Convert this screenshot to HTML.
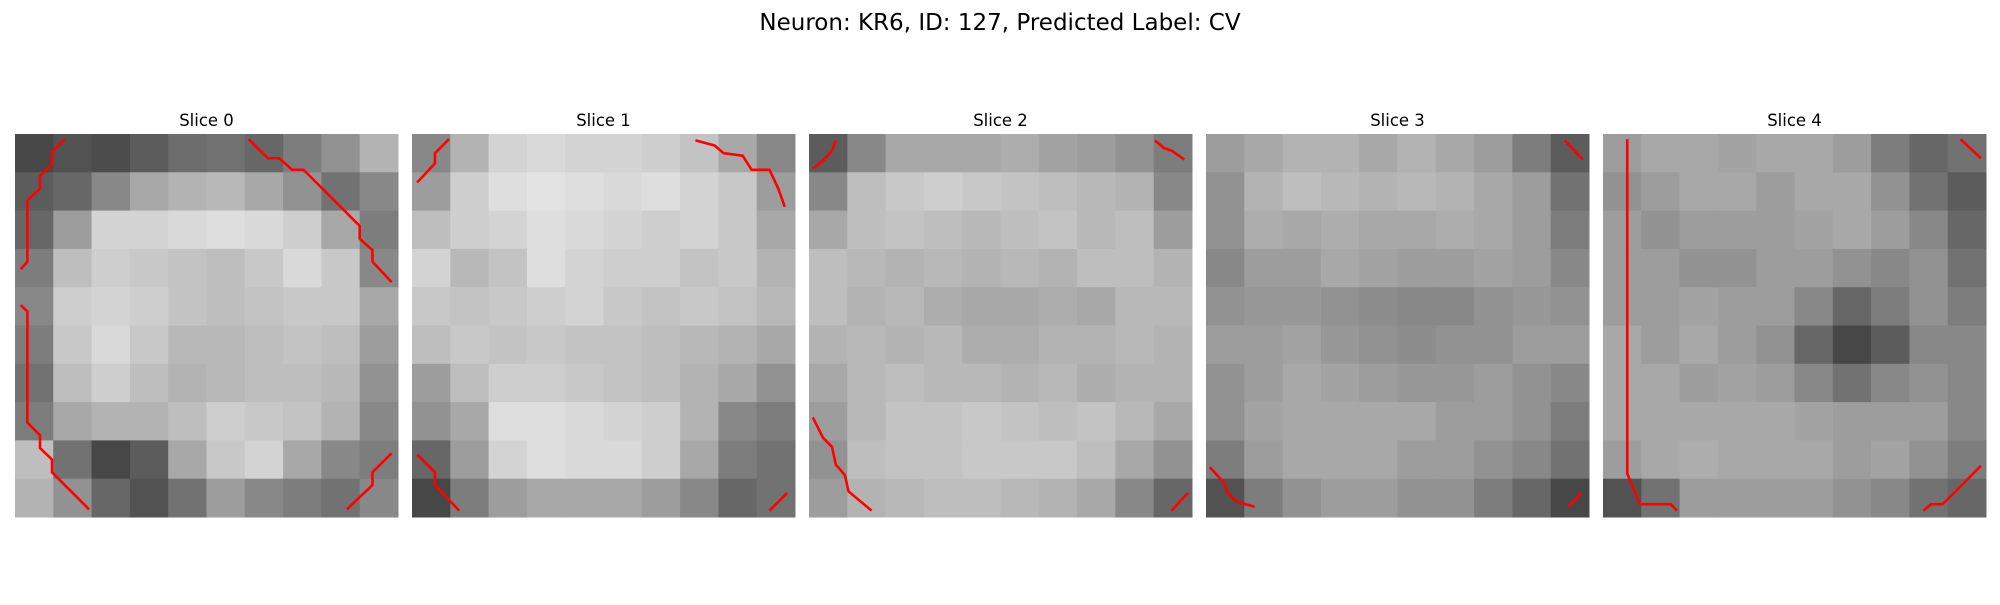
<!DOCTYPE html>
<html><head><meta charset="utf-8"><style>
body{margin:0;background:#fff;width:2000px;height:600px;overflow:hidden;font-family:"Liberation Sans","DejaVu Sans",sans-serif}
</style></head><body>
<svg id="fig" width="2000" height="600" xmlns="http://www.w3.org/2000/svg">
<text x="1000" y="30" text-anchor="middle" font-size="23" fill="#000" font-family="DejaVu Sans, sans-serif">Neuron: KR6, ID: 127, Predicted Label: CV</text>
</svg>
<script>
const sliceTitles=["Slice 0","Slice 1","Slice 2","Slice 3","Slice 4"];
const grid0=[[60,70,65,80,95,100,90,110,130,160],[80,90,120,150,160,165,150,130,100,120],[90,140,190,190,195,200,195,185,150,110],[110,170,185,180,175,170,180,195,180,120],[120,185,190,185,175,170,175,180,180,150],[110,180,195,180,165,165,170,175,170,140],[100,170,185,170,160,165,170,170,165,130],[110,150,160,160,170,185,180,175,160,120],[170,100,60,80,150,180,190,150,120,110],[160,130,90,70,100,140,120,110,100,120]];
const grid1=[[120,160,190,195,190,190,185,175,150,120],[140,185,200,205,200,195,200,190,180,140],[170,185,190,200,195,190,185,190,180,150],[190,165,175,200,190,185,185,175,180,160],[180,175,180,185,190,180,175,180,175,165],[170,180,175,180,175,175,170,165,160,150],[140,170,185,185,180,175,170,160,150,130],[130,150,200,200,195,190,185,160,120,110],[90,140,190,200,195,195,185,150,110,100],[60,110,140,150,150,150,140,120,90,100]];
const grid2=[[80,120,150,150,150,155,145,140,130,110],[120,170,180,185,180,175,170,165,160,120],[150,170,175,170,165,170,175,165,170,140],[170,165,160,165,160,165,160,170,170,160],[170,160,165,155,150,150,155,150,165,165],[160,165,160,165,155,155,160,160,165,160],[150,165,170,165,165,160,165,155,160,160],[140,165,175,175,180,175,170,175,165,150],[130,170,175,175,180,180,180,170,150,130],[140,160,165,170,170,165,160,150,120,90]];
const grid3=[[140,150,160,160,150,160,150,140,110,80],[130,160,170,165,160,165,160,150,140,100],[130,155,150,155,150,150,155,150,140,110],[120,140,140,150,145,140,140,145,140,120],[130,135,135,130,125,120,120,130,135,130],[140,140,145,135,130,125,130,130,140,140],[130,140,150,145,140,135,135,140,130,120],[130,145,150,150,150,150,140,140,130,110],[110,140,150,150,150,140,140,130,120,100],[70,110,130,140,140,130,130,110,90,60]];
const grid4=[[140,150,150,145,150,150,140,110,90,100],[130,140,150,150,140,150,150,130,100,80],[140,130,140,140,140,145,150,140,120,90],[140,140,130,130,140,140,130,120,130,100],[140,140,145,140,140,120,90,110,130,110],[150,140,150,140,130,90,60,80,120,120],[150,150,140,145,140,120,100,120,130,120],[150,150,150,150,150,145,140,140,140,120],[140,150,155,150,150,150,140,145,130,110],[70,100,140,140,140,140,130,120,100,90]];
const grids=[grid0,grid1,grid2,grid3,grid4];
const contours0=[[[3.9,0.4],[2.9,1.4],[2.9,2.35],[1.96,3.3],[1.96,4.26],[0.97,5.2],[0.97,10],[0.44,10.6]],[[0.44,13.4],[0.97,13.9],[0.97,22.6],[1.96,23.6],[1.96,24.6],[2.9,25.5],[2.9,26.5],[5.8,29.4]],[[18.3,0.4],[19.8,1.9],[20.7,1.9],[21.7,2.8],[22.6,2.8],[27,7.2],[27,8.2],[28,9.1],[28,10],[29.5,11.6]],[[29.5,25],[28,26.5],[28,27.5],[26,29.4]]];
const contours1=[[[0.4,3.8],[1.8,2.3],[1.8,1.5],[2.9,0.4]],[[22.2,0.5],[23.7,0.9],[24.4,1.5],[25.9,1.7],[26.6,2.8],[28,2.8],[28.7,4.3],[29.2,5.7]],[[0.4,25.1],[1.8,26.5],[1.8,27.5],[3.7,29.5]],[[29.4,28.1],[28,29.5]]];
const contours2=[[[0.3,2.7],[1.1,2.1],[1.8,1.3],[2.1,0.5]],[[27.1,0.5],[27.8,1.1],[28.4,1.3],[29.4,2]],[[0.3,22.2],[1.1,23.8],[1.8,24.5],[2.1,25.9],[2.8,26.7],[3.1,28],[4.9,29.5]],[[29.7,28.1],[28.4,29.5]]];
const contours3=[[[28.1,0.5],[29.5,2]],[[0.3,26.1],[1.4,27.3],[1.7,28.1],[2.4,28.8],[3.8,29.2]],[[29.4,28.1],[28.4,29.2]]];
const contours4=[[[28,0.4],[29.6,1.9]],[[1.9,0.4],[1.9,26.6],[2.9,29],[5.3,29],[5.8,29.5]],[[29.6,26],[26.6,29],[25.7,29],[25.1,29.5]]];
const contours=[contours0,contours1,contours2,contours3,contours4];

const NS="http://www.w3.org/2000/svg";
const svg=document.getElementById('fig');
const panelX=[15,412,809,1206,1603], panelY=134, panelW=383, panelH=383, nCells=30;
function sx(i,v){return panelX[i]+v/nCells*panelW;}
function sy(v){return panelY+v/nCells*panelH;}
function shade(v){const g=Math.max(0,Math.min(255,Math.round(v*1.08+6)));return 'rgb('+g+','+g+','+g+')';}
grids.forEach((g,i)=>{
  const grp=document.createElementNS(NS,'g');
  
  
  svg.appendChild(grp);
  const t=document.createElementNS(NS,'text');
  
  
  t.setAttribute('x',panelX[i]+panelW/2);t.setAttribute('y',126);
  t.setAttribute('text-anchor','middle');t.setAttribute('font-size','16.5');
  t.setAttribute('font-family','DejaVu Sans, sans-serif');
  t.textContent=sliceTitles[i];grp.appendChild(t);
  const rows=g.length, cols=g[0].length;
  g.forEach((row,r)=>row.forEach((v,c)=>{
    const rc=document.createElementNS(NS,'rect');
    
    
    const x0=sx(i,c*nCells/cols), x1=sx(i,(c+1)*nCells/cols);
    const y0=sy(r*nCells/rows), y1=sy((r+1)*nCells/rows);
    rc.setAttribute('x',x0);rc.setAttribute('y',y0);
    rc.setAttribute('width',x1-x0+0.5);rc.setAttribute('height',y1-y0+0.5);
    rc.setAttribute('fill',shade(v));
    grp.appendChild(rc);
  }));
  contours[i].forEach(line=>{
    const pl=document.createElementNS(NS,'polyline');
    
    
    pl.setAttribute('points',line.map(p=>sx(i,p[0])+','+sy(p[1])).join(' '));
    pl.setAttribute('fill','none');pl.setAttribute('stroke','#ff0000');
    pl.setAttribute('stroke-width','2.6');
    grp.appendChild(pl);
  });
});
</script>
</body></html>
